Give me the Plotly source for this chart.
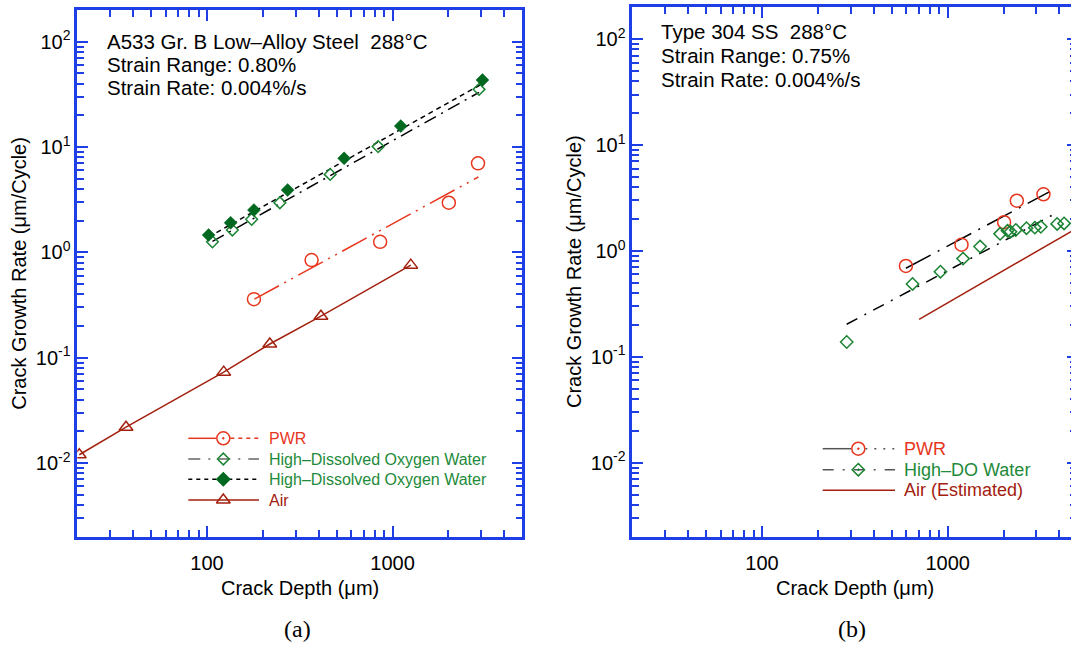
import numpy as np
import plotly.graph_objects as go

# ---------------- data ----------------
# Panel (a): A533 Gr. B low-alloy steel
a_air_x = [20.5, 36.6, 123, 218, 411, 1253]
a_air_y = [0.012, 0.0219, 0.073, 0.135, 0.248, 0.757]

a_pwr_x = [179, 366, 857, 2009, 2886]
a_pwr_y = [0.36, 0.845, 1.26, 2.96, 7.0]
a_pwr_fit_x = [180, 2900]
a_pwr_fit_y = [0.36, 5.2]

a_hdo_open_x = [107, 137, 174, 247, 461, 836, 2923]
a_hdo_open_y = [1.26, 1.63, 2.06, 2.96, 5.5, 10.1, 35.3]
a_hdo_open_fit_x = [107, 2923]
a_hdo_open_fit_y = [1.27, 33.0]

a_hdo_fill_x = [102, 134, 179, 272, 548, 1107, 3050]
a_hdo_fill_y = [1.46, 1.91, 2.52, 3.91, 7.81, 15.8, 43.3]
a_hdo_fill_fit_x = [102, 3050]
a_hdo_fill_fit_y = [1.40, 40.0]

# Panel (b): Type 304 SS
b_pwr_x = [596, 1188, 2015, 2359, 3283]
b_pwr_y = [0.721, 1.146, 1.866, 2.98, 3.43]
b_pwr_fit_x = [596, 3550]
b_pwr_fit_y = [0.686, 3.63]

b_hdo_x = [286, 647, 915, 1211, 1496, 1917, 2102, 2181, 2330, 2660, 2950, 3177, 3890, 4240]
b_hdo_y = [0.138, 0.488, 0.637, 0.846, 1.10, 1.45, 1.55, 1.52, 1.58, 1.64, 1.66, 1.69, 1.80, 1.82]
b_hdo_fit_x = [286, 3890]
b_hdo_fit_y = [0.203, 2.30]

b_air_fit_x = [702, 5000]
b_air_fit_y = [0.226, 1.65]

# tick labels
x_major = [100, 1000]
x_major_text = ["100", "1000"]
y_major = [0.01, 0.1, 1, 10, 100]
y_major_text = ["10<sup>-2</sup>", "10<sup>-1</sup>", "10<sup>0</sup>", "10<sup>1</sup>", "10<sup>2</sup>"]

# ---------------- style ----------------
W, H = 1071, 645
BLUE = "#1f3fe6"
RED = "#e8361e"
DRED = "#a3200f"
GREEN = "#1b8434"
DGREEN = "#00691f"
GTEXT = "#1e8a3a"
GRAY = "#555555"
SANS = "Liberation Sans, Arial, sans-serif"
SERIF = "Liberation Serif, Times New Roman, serif"


def px(x):
    return x / W


def py(y):
    return 1 - y / H


# panel frames in pixels
A = dict(x0=77.3, x1=522.3, y0=10.0, y1=536.7)
B = dict(x0=632.3, x1=1071.0, y0=7.3, y1=536.7)
DEC = 185.6  # px per decade on x

x_minor = [v * m for v in (10, 100, 1000) for m in range(2, 10)]
x_minor = [v for v in x_minor if 20 <= v <= 5000]
y_minor = [v * m for v in (0.001, 0.01, 0.1, 1, 10, 100) for m in range(2, 10)]
y_minor = [v for v in y_minor if 0.002 <= v <= 200]

fig = go.Figure()


def add(x, y, ax, **kw):
    xa, ya = ax
    fig.add_trace(go.Scatter(x=x, y=y, xaxis=xa, yaxis=ya, showlegend=False,
                             hoverinfo="skip", **kw))


# ---- panel (a)
add(a_pwr_fit_x, a_pwr_fit_y, ("x", "y"), mode="lines",
    line=dict(color=RED, width=1.5, dash="28px,6px,2px,6px,2px,6px"))
add(a_hdo_open_fit_x, a_hdo_open_fit_y, ("x", "y"), mode="lines",
    line=dict(color="black", width=1.5, dash="13px,6px,2px,6px"))
add(a_hdo_fill_fit_x, a_hdo_fill_fit_y, ("x", "y"), mode="lines",
    line=dict(color="black", width=1.5, dash="5px,4px"))
add(a_air_x, a_air_y, ("x", "y"), mode="lines+markers",
    line=dict(color=DRED, width=1.5),
    marker=dict(symbol="triangle-up-open", size=12, color=DRED, line=dict(width=1.5)))
add(a_pwr_x, a_pwr_y, ("x", "y"), mode="markers",
    marker=dict(symbol="circle-open", size=13, color=RED, line=dict(width=1.5)))
add(a_hdo_open_x, a_hdo_open_y, ("x", "y"), mode="markers",
    marker=dict(symbol="diamond-open", size=9, color=GREEN, line=dict(width=1.5)))
add(a_hdo_fill_x, a_hdo_fill_y, ("x", "y"), mode="markers",
    marker=dict(symbol="diamond", size=10, color=DGREEN, line=dict(width=0.5, color=DGREEN)))

# ---- panel (b)
add(b_air_fit_x, b_air_fit_y, ("x2", "y2"), mode="lines",
    line=dict(color=DRED, width=1.5))
add(b_pwr_fit_x, b_pwr_fit_y, ("x2", "y2"), mode="lines",
    line=dict(color="black", width=1.5, dash="28px,8px,2px,8px"))
add(b_hdo_fit_x, b_hdo_fit_y, ("x2", "y2"), mode="lines",
    line=dict(color="black", width=1.5, dash="12px,8px,2px,8px"))
add(b_pwr_x, b_pwr_y, ("x2", "y2"), mode="markers",
    marker=dict(symbol="circle-open", size=13, color=RED, line=dict(width=1.5)))
add(b_hdo_x, b_hdo_y, ("x2", "y2"), mode="markers",
    marker=dict(symbol="diamond-open", size=9.5, color=GREEN, line=dict(width=1.5)))
# dummy trace so the right-hand tick axis of panel (b) exists
add([], [], ("x2", "y4"), mode="markers")

# ---- hand-drawn legends on a pixel overlay
def leg_line(x0, x1, y, color, dash="solid"):
    add([x0, x1], [y, y], ("x3", "y3"), mode="lines",
        line=dict(color=color, width=1.5, dash=dash))


def leg_marker(x, y, symbol, size, color):
    add([x], [y], ("x3", "y3"), mode="markers",
        marker=dict(symbol=symbol, size=size, color=color, line=dict(width=1.5, color=color)))


LA_ = dict(x0=188.3, xm=223.3, x1=259.0, tx=267.3, rows=[438.3, 459.0, 479.3, 500.0])
r = LA_["rows"]
leg_line(LA_["x0"], LA_["xm"] - 7, r[0], RED)
leg_line(LA_["xm"] + 7, LA_["x1"], r[0], RED, "4px,4px")
leg_marker(LA_["xm"], r[0], "circle-open-dot", 13, RED)
leg_line(LA_["x0"], LA_["x1"], r[1], "#666666", "12px,8px,2px,8px")
leg_marker(LA_["xm"], r[1], "diamond-open", 9, GREEN)
leg_line(LA_["x0"], LA_["x1"], r[2], "black", "4px,4px")
leg_marker(LA_["xm"], r[2], "diamond", 10, DGREEN)
leg_line(LA_["x0"], LA_["x1"], r[3], DRED)
leg_marker(LA_["xm"], r[3], "triangle-up-open", 12, DRED)

LB_ = dict(x0=822.7, xm=858.3, x1=895.0, tx=902.3, rows=[448.7, 469.7, 490.3])
r2 = LB_["rows"]
leg_line(LB_["x0"], LB_["xm"] - 7, r2[0], GRAY)
leg_line(LB_["xm"] + 7, LB_["x1"], r2[0], GRAY, "2px,7px")
leg_marker(LB_["xm"], r2[0], "circle-open-dot", 13, RED)
leg_line(LB_["x0"], LB_["x1"], r2[1], GRAY, "11px,9px,2px,9px")
leg_marker(LB_["xm"], r2[1], "diamond-open-dot", 9.5, GREEN)
leg_line(LB_["x0"], LB_["x1"], r2[2], DRED)

# ---------------- axes ----------------
TF = dict(family=SANS, size=20, color="black")


def xaxis(frame, rng):
    return dict(type="log", domain=[px(frame["x0"]), px(frame["x1"])], range=rng,
                showline=True, linecolor=BLUE, linewidth=2.5, mirror="ticks",
                ticks="inside", ticklen=11, tickwidth=2, tickcolor=BLUE,
                tickmode="array", tickvals=x_major, ticktext=x_major_text,
                ticklabelstandoff=7,
                minor=dict(ticks="inside", ticklen=7, tickwidth=2, tickcolor=BLUE,
                           tickmode="array", tickvals=x_minor),
                showgrid=False, zeroline=False, tickfont=TF, fixedrange=True)


def yaxis(frame, mirror):
    return dict(type="log", domain=[py(frame["y1"]), py(frame["y0"])],
                range=[np.log10(0.002), np.log10(200)],
                showline=True, linecolor=BLUE, linewidth=2.5, mirror=mirror,
                ticks="inside", ticklen=11, tickwidth=2, tickcolor=BLUE,
                tickmode="array", tickvals=y_major, ticktext=y_major_text,
                minor=dict(ticks="inside", ticklen=7, tickwidth=2, tickcolor=BLUE,
                           tickmode="array", tickvals=y_minor),
                showgrid=False, zeroline=False, tickfont=TF, fixedrange=True)


xa = xaxis(A, [np.log10(20), np.log10(5000)])
xa["anchor"] = "y"
xb = xaxis(B, [np.log10(20), np.log10(20) + (B["x1"] - B["x0"]) / DEC])
xb["anchor"] = "y2"
ya = yaxis(A, "ticks")
ya["anchor"] = "x"
yb = yaxis(B, False)
yb["anchor"] = "x2"
yr = dict(type="log", overlaying="y2", anchor="free", position=1.0, side="right",
          range=[np.log10(0.002), np.log10(200)], showline=False,
          ticks="inside", ticklen=4, tickwidth=2, tickcolor=BLUE,
          tickmode="array", tickvals=y_major, showticklabels=False,
          minor=dict(ticks="inside", ticklen=1.5, tickwidth=2, tickcolor=BLUE,
                     tickmode="array", tickvals=y_minor),
          showgrid=False, zeroline=False, fixedrange=True)

pix_x = dict(domain=[0, 1], range=[0, W], visible=False, anchor="y3", fixedrange=True)
pix_y = dict(domain=[0, 1], range=[H, 0], visible=False, anchor="x3", fixedrange=True)

# ---------------- text ----------------
ann = []


def text(x, y, s, size=20, color="black", xanchor="left", family=SANS, angle=0):
    ann.append(dict(x=px(x), y=py(y), xref="paper", yref="paper", text=s, showarrow=False,
                    xanchor=xanchor, yanchor="middle", textangle=angle,
                    font=dict(family=family, size=size, color=color)))


text(105, 41.5, "A533 Gr. B Low\u2013Alloy Steel  288\u00b0C", 20.5)
text(105, 64.5, "Strain Range: 0.80%", 20.5)
text(105, 87.5, "Strain Rate: 0.004%/s", 20.5)
text(658.5, 31.7, "Type 304 SS  288\u00b0C", 20.5)
text(658.5, 55.6, "Strain Range: 0.75%", 20.5)
text(658.5, 79.6, "Strain Rate: 0.004%/s", 20.5)

text(LA_["tx"], r[0], "PWR", 16, RED)
text(LA_["tx"], r[1], "High\u2013Dissolved Oxygen Water", 16, GTEXT)
text(LA_["tx"], r[2], "High\u2013Dissolved Oxygen Water", 16, GTEXT)
text(LA_["tx"], r[3], "Air", 16, DRED)
text(LB_["tx"], r2[0], "PWR", 18, RED)
text(LB_["tx"], r2[1], "High\u2013DO Water", 18, GTEXT)
text(LB_["tx"], r2[2], "Air (Estimated)", 18, DRED)

text(299.8, 588.3, "Crack Depth (\u03bcm)", 20, xanchor="center")
text(854.5, 588.3, "Crack Depth (\u03bcm)", 20, xanchor="center")
text(19.5, 273.3, "Crack Growth Rate (\u03bcm/Cycle)", 20, xanchor="center", angle=-90)
text(574.0, 272.0, "Crack Growth Rate (\u03bcm/Cycle)", 20, xanchor="center", angle=-90)
text(297.0, 629.0, "(a)", 24, xanchor="center", family=SERIF)
text(852.0, 629.0, "(b)", 24, xanchor="center", family=SERIF)

fig.update_layout(
    width=W, height=H, margin=dict(l=0, r=0, t=0, b=0),
    paper_bgcolor="white", plot_bgcolor="rgba(0,0,0,0)",
    showlegend=False,
    xaxis=xa, yaxis=ya, xaxis2=xb, yaxis2=yb, yaxis4=yr,
    xaxis3=pix_x, yaxis3=pix_y,
    annotations=ann,
)

fig.write_html("out.html")
